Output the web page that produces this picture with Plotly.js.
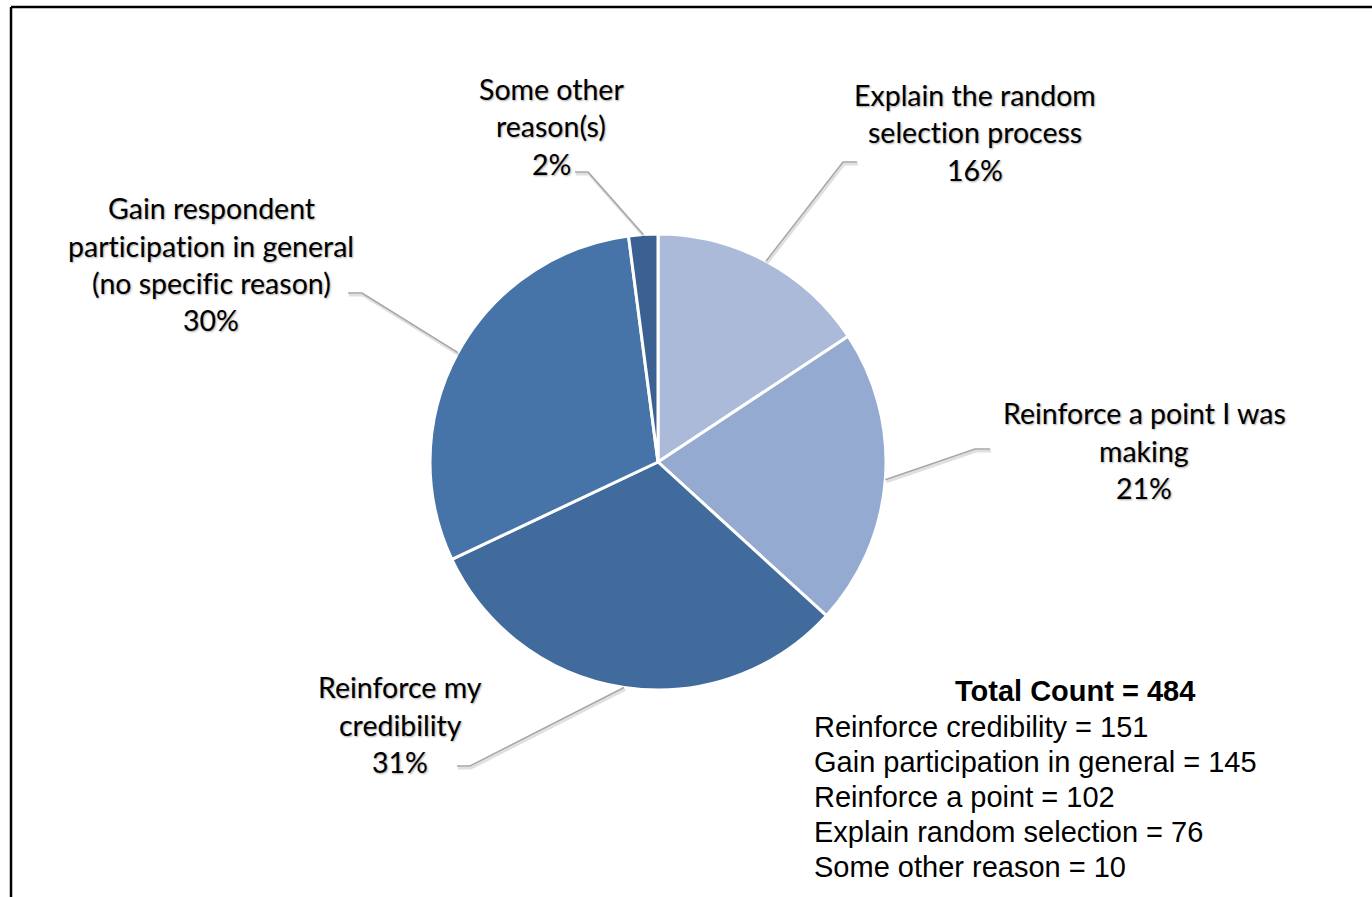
<!DOCTYPE html>
<html><head><meta charset="utf-8">
<script src="https://cdn.plot.ly/plotly-3.0.1.min.js"></script>
<style>html,body{margin:0;padding:0;background:#fff;overflow:hidden}#chart{width:1372px;height:897px}
text{font-variant-ligatures:none;font-feature-settings:"liga" 0,"dlig" 0}</style>
</head><body><div id="chart"></div>
<script>
// ---- data ----
const categories = [
  "Explain the random<br>selection process",
  "Reinforce a point I was<br>making",
  "Reinforce my<br>credibility",
  "Gain respondent<br>participation in general<br>(no specific reason)",
  "Some other<br>reason(s)"
];
const shortNames = [
  "Explain random selection",
  "Reinforce a point",
  "Reinforce credibility",
  "Gain participation in general",
  "Some other reason"
];
const counts = [76, 102, 151, 145, 10];
const sliceColors = ["#aabad8", "#95aad0", "#416b9c", "#4674a8", "#3b6192"];

// ---- layout (positions, styles) ----
const W = 1372, H = 897;
const cx = 658, cy = 462, R = 228;
const labelAnchors = [[975, 95], [1144, 413], [400, 687], [211, 208], [551, 89]];
const lineGap = 37.5;
const elbows = [[843, 162, 857], [975, 449, 990], [470, 766, 457], [362, 293, 348], [588, 172, 575]];
const px = x => x / W;
const py = y => 1 - y / H;

const total = counts.reduce((a, b) => a + b, 0);
const annotations = [];
const shapes = [];

// pie labels
categories.forEach((cat, i) => {
  const lines = cat.split("<br>").concat([Math.round(counts[i] / total * 100) + "%"]);
  lines.forEach((ln, j) => {
    annotations.push({
      xref: "paper", yref: "paper", x: px(labelAnchors[i][0]), y: py(labelAnchors[i][1] + j * lineGap),
      xanchor: "center", yanchor: "middle", showarrow: false, text: ln,
      font: {family: "Lato, 'Open Sans', sans-serif", size: 28.5, color: "#000",
             shadow: "1px 1px 2px rgba(0,0,0,0.35)"}
    });
  });
});

// leader lines from slice mid-angles
let cum = 0;
counts.forEach((c, i) => {
  const mid = (cum + c / 2) / total * 2 * Math.PI;
  cum += c;
  const sx = cx + R * Math.sin(mid), sy = cy - R * Math.cos(mid);
  const [ex, ey, tx] = elbows[i];
  const path = (dx, dy) => `M${px(sx + dx)},${py(sy + dy)} L${px(ex + dx)},${py(ey + dy)} L${px(tx + dx)},${py(ey + dy)}`;
  shapes.push({type: "path", xref: "paper", yref: "paper", path: path(1, 2), line: {color: "rgba(0,0,0,0.12)", width: 3}});
  shapes.push({type: "path", xref: "paper", yref: "paper", path: path(0, 0), line: {color: "#a6a6a6", width: 1.5}});
});

// summary text
const summaryFont = {family: "'Liberation Sans', Arial, sans-serif", size: 29, color: "#000"};
annotations.push({
  xref: "paper", yref: "paper", x: px(1075), y: py(691), xanchor: "center", yanchor: "middle",
  showarrow: false, text: "<b>Total Count = " + total + "</b>", font: summaryFont
});
const order = counts.map((c, i) => i).sort((a, b) => counts[b] - counts[a]);
order.forEach((idx, k) => {
  annotations.push({
    xref: "paper", yref: "paper", x: px(812), y: py(727 + k * 35), xanchor: "left", yanchor: "middle",
    showarrow: false, text: shortNames[idx] + " = " + counts[idx], font: summaryFont
  });
});

// frame
shapes.push({type: "line", xref: "paper", yref: "paper", x0: px(11), y0: py(7), x1: px(1380), y1: py(7), line: {color: "#000", width: 2.5}});
shapes.push({type: "line", xref: "paper", yref: "paper", x0: px(11), y0: py(7), x1: px(11), y1: py(905), line: {color: "#000", width: 2.5}});

const trace = {
  type: "pie",
  labels: shortNames,
  values: counts,
  sort: false,
  direction: "clockwise",
  rotation: 0,
  textinfo: "none",
  hoverinfo: "label+value+percent",
  marker: {colors: sliceColors, line: {color: "#ffffff", width: 3}},
  domain: {x: [(cx - R) / W, (cx + R) / W], y: [1 - (cy + R) / H, 1 - (cy - R) / H]},
  showlegend: false
};

Plotly.newPlot("chart", [trace], {
  width: W, height: H,
  margin: {l: 0, r: 0, t: 0, b: 0},
  paper_bgcolor: "#fff",
  showlegend: false,
  annotations: annotations,
  shapes: shapes
}, {displayModeBar: false, staticPlot: true});
</script>
</body></html>
